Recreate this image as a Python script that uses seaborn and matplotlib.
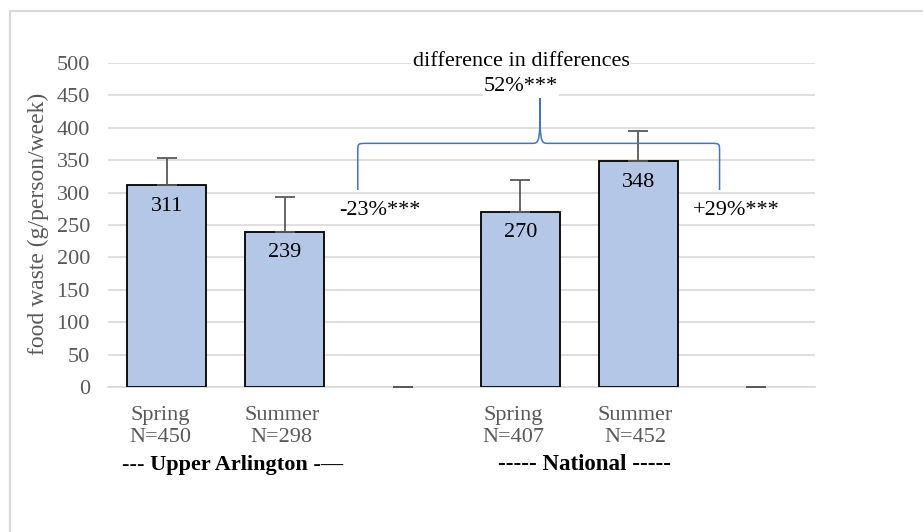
import matplotlib
matplotlib.use("Agg")
import matplotlib.pyplot as plt
from matplotlib.path import Path
from matplotlib.patches import PathPatch
from matplotlib.lines import Line2D
import matplotlib.transforms as mtransforms
import seaborn as sns
import pandas as pd

# Chart data
slots = ["UA Spring", "UA Summer", "UA gap", "Nat Spring", "Nat Summer", "Nat gap"]
tick_labels = ["Spring\nN=450", "Summer\nN=298", "", "Spring\nN=407", "Summer\nN=452", ""]
waste = [311, 239, 0, 270, 348, 0]
err_up = [42, 54, 0, 49, 47, 0]
bar_labels = ["311", "239", "", "270", "348", ""]
group_names = ["--- Upper Arlington -\u2014", "----- National -----"]
change_labels = ["-23%***", "+29%***"]
did_title = "difference in differences"
did_value = "52%***"

FS = 16

sns.set_style("white")
plt.rcParams["font.family"] = ["Liberation Serif", "DejaVu Serif"]

df = pd.DataFrame({"slot": slots, "waste": waste})

fig = plt.figure(figsize=(9.23, 5.32), dpi=100)
ax = fig.add_axes([108 / 923, 1 - 387 / 532, 707 / 923, 324 / 532])

sns.barplot(data=df, x="slot", y="waste", order=slots, color="#B4C7E7",
            saturation=1, edgecolor="black", linewidth=1.3, width=0.67,
            errorbar=None, ax=ax, zorder=3)
# empty slots carry no visible outline
for patch, v in zip(ax.patches, waste):
    if v == 0:
        patch.set_linewidth(0)

xs = list(range(len(slots)))
ax.errorbar(xs, waste, yerr=[[0] * len(err_up), err_up], fmt="none",
            ecolor="#595959", elinewidth=1.3, capsize=7, capthick=1.3, zorder=4)

for x, v, lab in zip(xs, waste, bar_labels):
    if lab:
        ax.annotate(lab, (x, v), xytext=(0, -15), textcoords="offset points",
                    ha="center", va="center", fontsize=FS, color="black", zorder=5)

ax.set_xlim(-0.5, len(slots) - 0.5)
ax.set_ylim(0, 500)
ax.set_yticks(range(0, 501, 50))
ax.set_xticks(xs)
ax.set_xticklabels(tick_labels, linespacing=1.2)
ax.tick_params(axis="both", length=0, labelsize=FS, labelcolor="#595959")
ax.tick_params(axis="x", pad=14)
ax.tick_params(axis="y", pad=13)
# nudge the two-line season labels slightly left
nudges = [-7, -3, 0, -7, -3, 0]
for lab, dxp in zip(ax.get_xticklabels(), nudges):
    lab.set_transform(lab.get_transform()
                      + mtransforms.ScaledTranslation(dxp / 100, 0, fig.dpi_scale_trans))
ax.set_xlabel("")
ax.set_ylabel("")
ax.yaxis.grid(True, color="#D9D9D9", linewidth=1.2, zorder=0)
ax.set_axisbelow(True)
for side in ["top", "right", "left"]:
    ax.spines[side].set_visible(False)
ax.spines["bottom"].set_color("#D9D9D9")
ax.spines["bottom"].set_linewidth(1.2)

fig.text(38 / 923, 1 - 224 / 532, "food waste (g/person/week)", rotation=90,
         ha="center", va="center", fontsize=17, color="#595959")

# Group names under the season labels
trans = mtransforms.blended_transform_factory(ax.transData, fig.transFigure)
ax.text(0.56, 1 - 465 / 532, group_names[0], transform=trans, ha="center",
        va="center", fontsize=FS, fontweight="bold", color="black")
ax.text(3.54, 1 - 465 / 532, group_names[1], transform=trans, ha="center",
        va="center", fontsize=16.5, fontweight="bold", color="black")

# Brace linking the two seasonal changes
xl, xr, xc = 1.62, 4.69, 3.166
y0, yh, ypk = 304, 376, 446
dx, dy = 0.08, 12
verts = [
    (xl, y0), (xl, yh - dy),
    (xl, yh), (xl, yh), (xl + dx, yh),
    (xc - 0.06, yh),
    (xc, yh), (xc, yh + 8), (xc, ypk),
    (xc, yh + 8), (xc, yh), (xc + 0.06, yh),
    (xr - dx, yh),
    (xr, yh), (xr, yh), (xr, yh - dy),
    (xr, y0),
]
codes = [Path.MOVETO, Path.LINETO,
         Path.CURVE4, Path.CURVE4, Path.CURVE4,
         Path.LINETO,
         Path.CURVE4, Path.CURVE4, Path.CURVE4,
         Path.CURVE4, Path.CURVE4, Path.CURVE4,
         Path.LINETO,
         Path.CURVE4, Path.CURVE4, Path.CURVE4,
         Path.LINETO]
ax.add_patch(PathPatch(Path(verts, codes), facecolor="none", edgecolor="#4472C4",
                       linewidth=1.1, clip_on=False, zorder=5))

ax.text(3.005, 503, did_title, ha="center", va="center", fontsize=FS,
        color="black", clip_on=False, zorder=6,
        bbox=dict(facecolor="white", edgecolor="none", pad=0.5))
ax.text(3.005, 463, did_value, ha="center", va="center", fontsize=FS,
        color="black", clip_on=False, zorder=6,
        bbox=dict(facecolor="white", edgecolor="none", pad=0.5))
ax.text(1.81, 272, change_labels[0], ha="center", va="center", fontsize=FS,
        color="black", zorder=6)
ax.text(4.83, 272, change_labels[1], ha="center", va="center", fontsize=FS,
        color="black", zorder=6)

# Frame edges along the top and left of the figure
fig.add_artist(Line2D([9.5 / 923, 9.5 / 923], [0, 1 - 11 / 532],
                      transform=fig.transFigure, color="#D9D9D9", linewidth=1.5))
fig.add_artist(Line2D([9.5 / 923, 1], [1 - 11 / 532, 1 - 11 / 532],
                      transform=fig.transFigure, color="#D9D9D9", linewidth=1.5))

fig.savefig("out.png", dpi=100, facecolor="white")
